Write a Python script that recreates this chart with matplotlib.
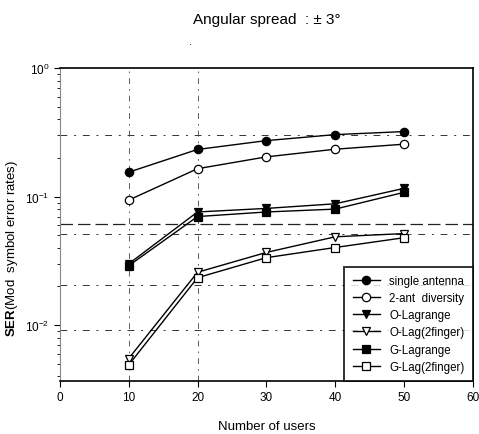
import numpy as np
import matplotlib
matplotlib.use("Agg")
import matplotlib.pyplot as plt

# ---------------- data ----------------
users = [10, 20, 30, 40, 50]

single_antenna = [0.155, 0.233, 0.273, 0.304, 0.321]
two_ant_div = [0.094, 0.165, 0.204, 0.234, 0.256]
o_lagrange = [0.030, 0.076, 0.081, 0.088, 0.116]
o_lag_2finger = [0.0055, 0.0258, 0.0368, 0.0487, 0.0516]
g_lagrange = [0.029, 0.070, 0.076, 0.080, 0.108]
g_lag_2finger = [0.0049, 0.0234, 0.0335, 0.0402, 0.0479]

series_labels = ["single antenna", "2-ant  diversity", "O-Lagrange",
                 "O-Lag(2finger)", "G-Lagrange", "G-Lag(2finger)"]

# stray dashed guide lines visible in the scan
hline_levels = [0.30, 0.051, 0.0204, 0.00915]
long_dash_level = 0.0618
vline_levels = [10, 20]

x_ticks = [0, 10, 20, 30, 40, 50, 60]

# ---------------- plot ----------------
plt.rcParams['font.family'] = ['Liberation Sans', 'DejaVu Sans']
plt.rcParams['mathtext.fontset'] = 'custom'
plt.rcParams['mathtext.rm'] = 'Liberation Sans'
plt.rcParams['mathtext.it'] = 'Liberation Sans'
plt.rcParams['mathtext.bf'] = 'Liberation Sans:bold'

fig = plt.figure(figsize=(4.79, 4.35), dpi=100)
ax = fig.add_axes([0.125, 0.122, 0.862, 0.719])

# scan artefacts: broken dash-dot guides
for lv in hline_levels:
  ax.axhline(lv, color='#333333', lw=0.7, ls=(0, (7, 7, 2, 7)), zorder=1)
ax.axhline(long_dash_level, color='#222222', lw=0.9, ls=(0, (10, 4)), zorder=1)
for lv in vline_levels:
  ax.axvline(lv, color='#444444', lw=0.6, ls=(0, (7, 6, 2, 6)), zorder=1)

styles = [
  (single_antenna, 'o', 'black'),
  (two_ant_div, 'o', 'white'),
  (o_lagrange, 'v', 'black'),
  (o_lag_2finger, 'v', 'white'),
  (g_lagrange, 's', 'black'),
  (g_lag_2finger, 's', 'white'),
]
for (vals, mk, fc), lab in zip(styles, series_labels):
  ax.plot(users, vals, color='black', lw=1.0, marker=mk, markersize=6,
          markerfacecolor=fc, markeredgecolor='black', markeredgewidth=0.9,
          label=lab, zorder=3)

ax.set_yscale('log')
ax.set_xlim(0, 60)
ax.set_ylim(0.00368, 1.0)
ax.set_xticks(x_ticks)
ax.set_yticks([1e-2, 1e-1, 1e0])
ax.set_yticklabels([r'$10^{-2}$', r'$10^{-1}$', r'$10^{0}$'])
ax.tick_params(axis='both', which='major', direction='out', length=4,
               labelsize=8.5, width=0.8)
ax.tick_params(axis='y', which='minor', direction='out', length=2, width=0.6)
ax.yaxis.set_minor_formatter(matplotlib.ticker.NullFormatter())

for side in ['top', 'right', 'bottom']:
  ax.spines[side].set_linewidth(1.2)
ax.spines['left'].set_color('#888888')

ax.set_xlabel('Number of users', fontsize=9.5, labelpad=12)
ax.set_ylabel(r'$\mathbf{SER}$(Mod  symbol error rates)', fontsize=9.5)
ax.yaxis.set_label_coords(-0.097, 0.428)

leg = ax.legend(loc='lower right', fontsize=8.3, frameon=True, fancybox=False,
                edgecolor='black', borderaxespad=0.0, handlelength=2.4,
                labelspacing=0.45, borderpad=0.7)
leg.get_frame().set_linewidth(1.4)

fig.text(0.557, 0.954, 'Angular spread  : \u00b1 3\u00b0', fontsize=11,
         ha='center', va='center')
fig.text(0.397, 0.903, '.', fontsize=8, ha='center', va='center')

fig.savefig('out.png', dpi=100)
